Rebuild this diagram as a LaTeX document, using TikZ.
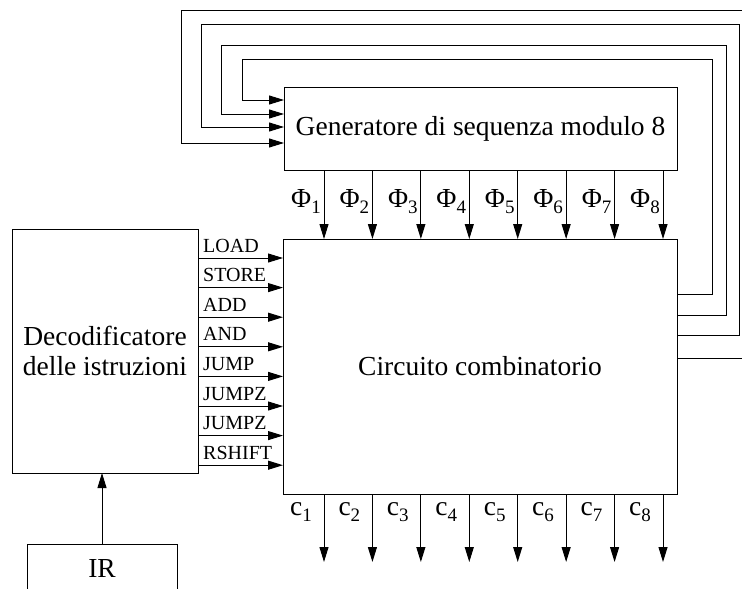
\documentclass[tikz,border=0pt]{standalone}
\usepackage{fontspec}
\setmainfont{Liberation Serif}
\usetikzlibrary{arrows.meta}
\newcommand{\lowsub}[1]{\raisebox{-6pt}{\fontsize{19}{19}\selectfont #1}}
\tikzset{
  blk/.style={draw, line width=1pt, inner sep=0pt, outer sep=0pt, align=center, font=\fontsize{27.5}{30}\selectfont},
  sig/.style={line width=1pt, -{Triangle[length=15pt,width=9pt]}},
  lbl/.style={inner sep=0pt, font=\fontsize{20}{20}\selectfont},
  sym/.style={inner sep=0pt, font=\fontsize{27.5}{27.5}\selectfont}
}
\begin{document}
\begin{tikzpicture}[x=1pt,y=-1pt]
\useasboundingbox (0,0) rectangle (742,589);
% blocchi
\node[blk, minimum width=393pt, minimum height=83pt] (gen) at (480.5,128.5) {Generatore di sequenza modulo 8};
\node[blk, minimum width=394pt, minimum height=255pt] (circ) at (480,366.5) {Circuito combinatorio};
\node[blk, minimum width=186pt, minimum height=244pt] (dec) at (105,351) {Decodificatore\\delle istruzioni};
\node[blk, minimum width=150pt, minimum height=48pt] (ir) at (102,568) {IR};
\draw[sig] (ir.north) -- (ir.north |- dec.south);
% fasi e comandi
\foreach \k [evaluate=\k as \xk using 324+(\k-1)*48.43] in {1,...,8}{
  \draw[sig] (gen.south -| \xk,0) -- (circ.north -| \xk,0);
  \node[sym, anchor=base east] (phi\k) at ({\xk-3},207) {Φ\lowsub{\k}};
  \draw[sig] (circ.south -| \xk,0) -- (\xk,562);
  \node[sym, anchor=base east] (c\k) at ({\xk-12},515) {c\lowsub{\k}};
}
% retroazione
\foreach \ya/\xr/\yt/\xl/\yb in {294/712/59/242/100, 315/726/45/221/114, 335/739/24/201/127, 358/760/10/181/143}
  \draw[sig] (circ.east |- 0,\ya) -| (\xr,\yt) -| (\xl,\yb) -- (gen.west |- 0,\yb);
% istruzioni
\foreach \k/\op in {1/LOAD,2/STORE,3/ADD,4/AND,5/JUMP,6/JUMPZ,7/JUMPZ,8/RSHIFT}{
  \pgfmathsetmacro\yk{258+(\k-1)*29.6}
  \draw[sig] (dec.east |- 0,\yk) -- (circ.west |- 0,\yk);
  \node[lbl, anchor=base west] (op\k) at (203,{\yk-6}) {\op};
}
\end{tikzpicture}
\end{document}
